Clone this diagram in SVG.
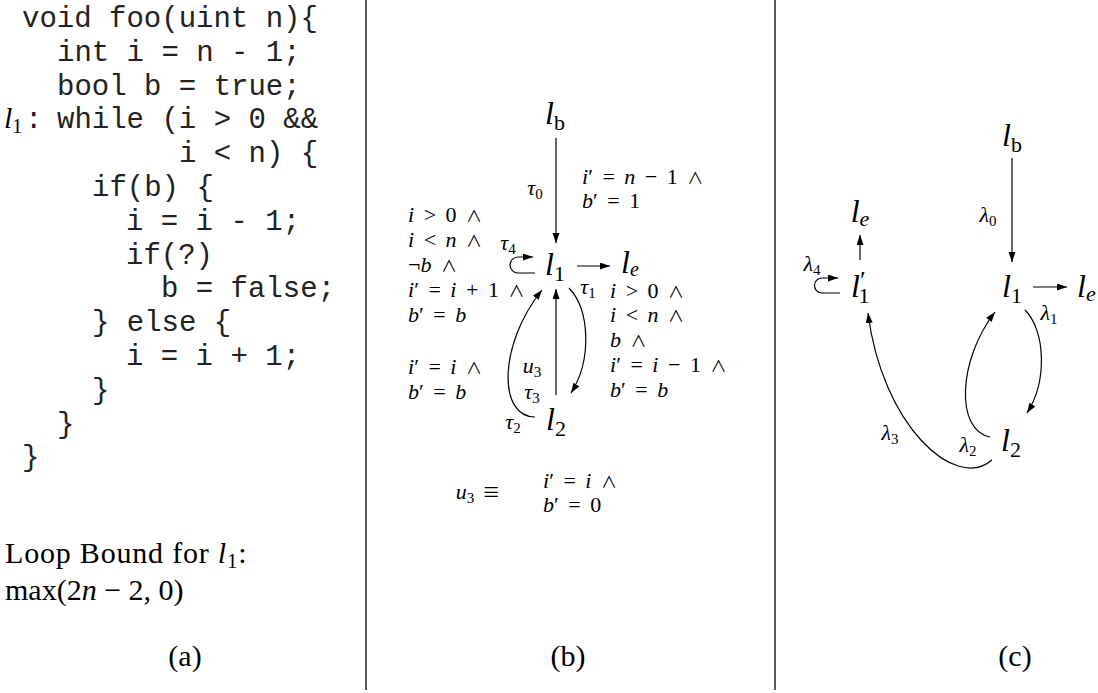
<svg xmlns="http://www.w3.org/2000/svg" width="1098" height="693" viewBox="0 0 1098 693">
<defs>
<marker id="ah" markerUnits="userSpaceOnUse" markerWidth="11" markerHeight="8" refX="10" refY="3.5" orient="auto">
<path d="M0,0 L10,3.5 L0,7 z" fill="#000"/>
</marker>
<style>
.code{font-family:"Liberation Mono","DejaVu Sans Mono",monospace;font-size:29px;fill:#222}
.t{font-family:"Liberation Serif","DejaVu Serif",serif;font-size:30px;fill:#000}
.m{font-family:"Liberation Serif","DejaVu Serif",serif;font-size:22px;word-spacing:4px;fill:#000}
.n{font-family:"Liberation Serif","DejaVu Serif",serif;font-size:32px;fill:#000}
.i{font-style:italic}
.s{font-size:15px;font-style:normal}
.sn{font-size:22px;font-style:normal}
.op{font-family:"Noto Sans CJK JP","DejaVu Sans",sans-serif;font-weight:normal;font-size:16px}
.e{fill:none;stroke:#000;stroke-width:1.2}
.div{stroke:#222;stroke-width:1.5}
</style>
</defs>
<rect width="1098" height="693" fill="#fff"/>

<g id="dividers">
<line class="div" x1="366" y1="0" x2="366" y2="690"/>
<line class="div" x1="775" y1="0" x2="775" y2="690"/>
</g>

<g id="panel-a">
<text class="code" x="22" y="27">void foo(uint n){</text>
<text class="code" x="57" y="61">int i = n - 1;</text>
<text class="code" x="57" y="95">bool b = true;</text>
<text class="t i" x="4" y="128" style="font-size:30px">l<tspan style="font-size:20px;font-style:normal" dy="5">1</tspan></text>
<text class="code" x="25" y="128">:</text>
<text class="code" x="57" y="128">while (i &gt; 0 &amp;&amp;</text>
<text class="code" x="179" y="162">i &lt; n) {</text>
<text class="code" x="92" y="196">if(b) {</text>
<text class="code" x="126" y="230">i = i - 1;</text>
<text class="code" x="126" y="264">if(?)</text>
<text class="code" x="161" y="297">b = false;</text>
<text class="code" x="92" y="331">} else {</text>
<text class="code" x="126" y="365">i = i + 1;</text>
<text class="code" x="92" y="399">}</text>
<text class="code" x="57" y="433">}</text>
<text class="code" x="22" y="466">}</text>
<text class="t" x="5" y="563" style="letter-spacing:0.8px">Loop Bound for <tspan class="i">l</tspan><tspan dy="5" style="font-size:21px">1</tspan><tspan dy="-5">:</tspan></text>
<text class="t" x="5" y="600">max(2<tspan class="i">n</tspan> − 2, 0)</text>
<text class="t" x="185" y="666" text-anchor="middle">(a)</text>
</g>

<g id="connectors-b">
<line class="e" x1="556" y1="138" x2="556" y2="243" marker-end="url(#ah)"/>
<line class="e" x1="577" y1="266" x2="610" y2="266" marker-end="url(#ah)"/>
<line class="e" x1="556" y1="395" x2="556" y2="289" marker-end="url(#ah)"/>
<path class="e" d="M535,417 C498,417 498,345 542,290" marker-end="url(#ah)"/>
<path class="e" d="M569,288 C590,310 592,360 571,393" marker-end="url(#ah)"/>
<path class="e" d="M535,273 L518,273 A8,8 0 0 1 518,257 L533,257" marker-end="url(#ah)"/>
</g>

<g id="node-b-lb"><text class="n i" x="555" y="124" text-anchor="middle">l<tspan class="sn" dy="6">b</tspan></text></g>
<g id="node-b-l1"><text class="n i" x="555" y="275" text-anchor="middle">l<tspan class="sn" dy="6">1</tspan></text></g>
<g id="node-b-le"><text class="n i" x="621" y="273">l<tspan class="sn" style="font-style:italic;font-size:20px" dy="3">e</tspan></text></g>
<g id="node-b-l2"><text class="n i" x="546" y="430">l<tspan class="sn" dy="6">2</tspan></text></g>

<g id="labels-b">
<text class="m i" x="535" y="195" text-anchor="middle">τ<tspan class="s" dy="4">0</tspan></text>
<text class="m i" x="588" y="294" text-anchor="middle">τ<tspan class="s" dy="4">1</tspan></text>
<text class="m i" x="513" y="429" text-anchor="middle">τ<tspan class="s" dy="4">2</tspan></text>
<text class="m i" x="532" y="399" text-anchor="middle">τ<tspan class="s" dy="4">3</tspan></text>
<text class="m i" x="508" y="250" text-anchor="middle">τ<tspan class="s" dy="4">4</tspan></text>
<text class="m i" x="532" y="373" text-anchor="middle">u<tspan class="s" dy="4">3</tspan></text>

<text class="m" x="582" y="184"><tspan class="i">i</tspan>′ = <tspan class="i">n</tspan> − 1 <tspan class="op">∧</tspan></text>
<text class="m" x="582" y="208"><tspan class="i">b</tspan>′ = 1</text>

<text class="m" x="408" y="222"><tspan class="i">i</tspan> &gt; 0 <tspan class="op">∧</tspan></text>
<text class="m" x="408" y="247"><tspan class="i">i</tspan> &lt; <tspan class="i">n</tspan> <tspan class="op">∧</tspan></text>
<text class="m" x="408" y="272">¬<tspan class="i">b</tspan> <tspan class="op">∧</tspan></text>
<text class="m" x="408" y="297"><tspan class="i">i</tspan>′ = <tspan class="i">i</tspan> + 1 <tspan class="op">∧</tspan></text>
<text class="m" x="408" y="322"><tspan class="i">b</tspan>′ = <tspan class="i">b</tspan></text>
<text class="m" x="408" y="374"><tspan class="i">i</tspan>′ = <tspan class="i">i</tspan> <tspan class="op">∧</tspan></text>
<text class="m" x="408" y="399"><tspan class="i">b</tspan>′ = <tspan class="i">b</tspan></text>

<text class="m" x="610" y="298"><tspan class="i">i</tspan> &gt; 0 <tspan class="op">∧</tspan></text>
<text class="m" x="610" y="322"><tspan class="i">i</tspan> &lt; <tspan class="i">n</tspan> <tspan class="op">∧</tspan></text>
<text class="m" x="610" y="347"><tspan class="i">b</tspan> <tspan class="op">∧</tspan></text>
<text class="m" x="610" y="372"><tspan class="i">i</tspan>′ = <tspan class="i">i</tspan> − 1 <tspan class="op">∧</tspan></text>
<text class="m" x="610" y="397"><tspan class="i">b</tspan>′ = <tspan class="i">b</tspan></text>

<text class="m" x="478" y="499" text-anchor="middle"><tspan class="i">u</tspan><tspan class="s" dy="4">3</tspan><tspan dy="-4" class="op" style="font-size:18px"> ≡</tspan></text>
<text class="m" x="543" y="488"><tspan class="i">i</tspan>′ = <tspan class="i">i</tspan> <tspan class="op">∧</tspan></text>
<text class="m" x="543" y="512"><tspan class="i">b</tspan>′ = 0</text>
<text class="t" x="568" y="666" text-anchor="middle">(b)</text>
</g>

<g id="connectors-c">
<line class="e" x1="1012" y1="158" x2="1012" y2="262" marker-end="url(#ah)"/>
<line class="e" x1="1033" y1="287" x2="1067" y2="287" marker-end="url(#ah)"/>
<line class="e" x1="860" y1="260" x2="860" y2="235" marker-end="url(#ah)"/>
<path class="e" d="M1025,310 C1045,330 1048,380 1027,413" marker-end="url(#ah)"/>
<path class="e" d="M990,437 C955,430 958,360 995,312" marker-end="url(#ah)"/>
<path class="e" d="M992,460 C955,492 882,425 868,313" marker-end="url(#ah)"/>
<path class="e" d="M840,293 L822,293 A7.5,7.5 0 0 1 822,278 L838,278" marker-end="url(#ah)"/>
</g>

<g id="node-c-lb"><text class="n i" x="1012" y="146" text-anchor="middle">l<tspan class="sn" dy="6">b</tspan></text></g>
<g id="node-c-l1"><text class="n i" x="1012" y="297" text-anchor="middle">l<tspan class="sn" dy="6">1</tspan></text></g>
<g id="node-c-le"><text class="n i" x="1077" y="297">l<tspan class="sn" style="font-style:italic" dy="4">e</tspan></text></g>
<g id="node-c-le2"><text class="n i" x="860" y="222" text-anchor="middle">l<tspan class="sn" style="font-style:italic" dy="4">e</tspan></text></g>
<g id="node-c-l1p"><text class="n i" x="851" y="297">l<tspan style="font-size:26px;font-style:normal" dy="-8">′</tspan><tspan class="sn" dx="-7" dy="14">1</tspan></text></g>
<g id="node-c-l2"><text class="n i" x="1001" y="451">l<tspan class="sn" dy="6">2</tspan></text></g>

<g id="labels-c">
<text class="m i" x="988" y="222" text-anchor="middle">λ<tspan class="s" dy="4">0</tspan></text>
<text class="m i" x="1049" y="320" text-anchor="middle">λ<tspan class="s" dy="4">1</tspan></text>
<text class="m i" x="968" y="452" text-anchor="middle">λ<tspan class="s" dy="4">2</tspan></text>
<text class="m i" x="890" y="440" text-anchor="middle">λ<tspan class="s" dy="4">3</tspan></text>
<text class="m i" x="812" y="271" text-anchor="middle">λ<tspan class="s" dy="4">4</tspan></text>
<text class="t" x="1015" y="666" text-anchor="middle">(c)</text>
</g>
</svg>
